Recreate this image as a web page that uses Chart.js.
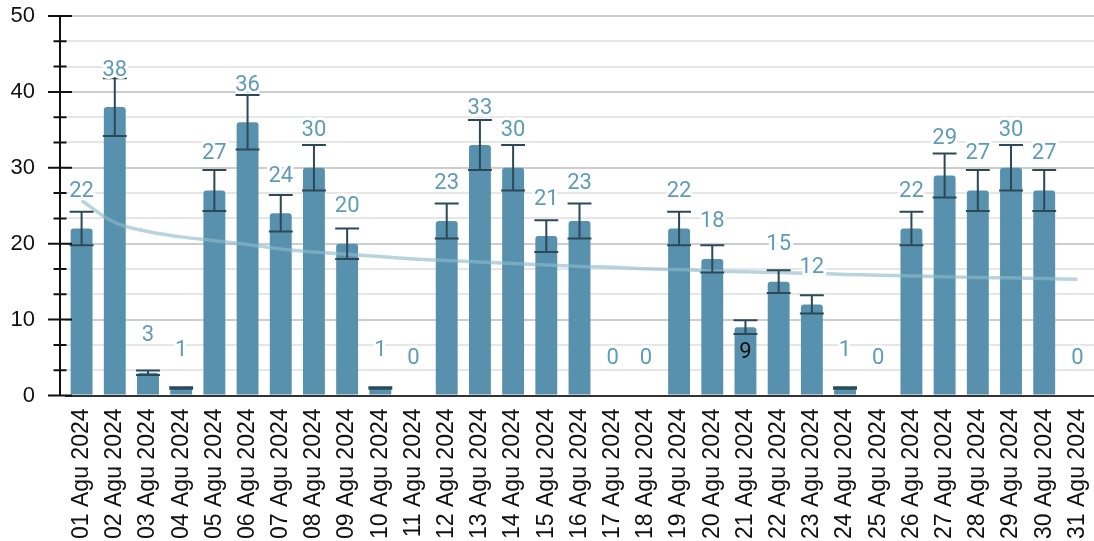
<!DOCTYPE html>
<html>
<head>
<meta charset="utf-8">
<style>
  html, body { margin: 0; padding: 0; background: #fff; }
  #wrap { width: 1094px; height: 541px; }
</style>
<script src="https://cdn.jsdelivr.net/npm/chart.js@4.4.0/dist/chart.umd.min.js"></script>
</head>
<body>
<div id="wrap"><canvas id="c"></canvas></div>
<script>
/* ── Data ── */
const days = [
  '01 Agu 2024', '02 Agu 2024', '03 Agu 2024', '04 Agu 2024', '05 Agu 2024',
  '06 Agu 2024', '07 Agu 2024', '08 Agu 2024', '09 Agu 2024', '10 Agu 2024',
  '11 Agu 2024', '12 Agu 2024', '13 Agu 2024', '14 Agu 2024', '15 Agu 2024',
  '16 Agu 2024', '17 Agu 2024', '18 Agu 2024', '19 Agu 2024', '20 Agu 2024',
  '21 Agu 2024', '22 Agu 2024', '23 Agu 2024', '24 Agu 2024', '25 Agu 2024',
  '26 Agu 2024', '27 Agu 2024', '28 Agu 2024', '29 Agu 2024', '30 Agu 2024',
  '31 Agu 2024'
];
const counts  = [22, 38, 3, 1, 27, 36, 24, 30, 20, 1, 0, 23, 33, 30, 21, 23, 0, 0, 22, 18, 9, 15, 12, 1, 0, 22, 29, 27, 30, 27, 0];
const errLow  = [19.8, 34.2, 2.7, 0.9, 24.3, 32.4, 21.6, 27, 18, 0.9, 0, 20.7, 29.7, 27, 18.9, 20.7, 0, 0, 19.8, 16.2, 8.1, 13.5, 10.8, 0.9, 0, 19.8, 26.1, 24.3, 27, 24.3, 0];
const errHigh = [24.2, 41.8, 3.3, 1.1, 29.7, 39.6, 26.4, 33, 22, 1.1, 0, 25.3, 36.3, 33, 23.1, 25.3, 0, 0, 24.2, 19.8, 9.9, 16.5, 13.2, 1.1, 0, 24.2, 31.9, 29.7, 33, 29.7, 0];
const trend   = [25.7, 22.8, 21.6, 20.9, 20.4, 19.9, 19.3, 18.9, 18.6, 18.3, 18.0, 17.8, 17.6, 17.4, 17.2, 17.0, 16.9, 16.7, 16.6, 16.4, 16.3, 16.2, 16.1, 15.95, 15.85, 15.75, 15.65, 15.55, 15.5, 15.4, 15.3];
const yMax    = 50;

/* ── Colours ── */
const BAR   = '#5891ad';
const LABEL = '#5f9cb7';
const ERR   = '#2b4956';
const TREND = 'rgba(140,185,204,0.62)';

const BAR_DS = 1;

/* ── Error bars ── */
const errorBars = {
  id: 'errorBars',
  afterDatasetsDraw(chart) {
    const { ctx, scales: { y } } = chart;
    const meta = chart.getDatasetMeta(BAR_DS);
    ctx.save();
    ctx.strokeStyle = ERR;
    ctx.lineWidth = 2;
    meta.data.forEach((bar, i) => {
      if (!counts[i]) return;
      const yl = y.getPixelForValue(errLow[i]);
      const yh = y.getPixelForValue(errHigh[i]);
      const half = bar.width / 2 + 1;
      ctx.beginPath();
      ctx.moveTo(bar.x, yl); ctx.lineTo(bar.x, yh);
      ctx.moveTo(bar.x - half, yl); ctx.lineTo(bar.x + half, yl);
      ctx.moveTo(bar.x - half, yh); ctx.lineTo(bar.x + half, yh);
      ctx.stroke();
    });
    ctx.restore();
  }
};

/* ── Value labels, white halo ── */
const valueLabels = {
  id: 'valueLabels',
  afterDraw(chart) {
    const { ctx } = chart;
    const meta = chart.getDatasetMeta(BAR_DS);
    const inside = new Set([20]);   // "9" sits inside its bar
    ctx.save();
    ctx.font = '22px Roboto';
    ctx.textAlign = 'center';
    ctx.textBaseline = 'middle';
    ctx.lineJoin = 'round';
    meta.data.forEach((bar, i) => {
      const txt = String(counts[i]);
      if (inside.has(i)) {
        ctx.fillStyle = '#111';
        ctx.fillText(txt, bar.x, bar.y + 25);
        return;
      }
      const ty = bar.y - 37;
      ctx.strokeStyle = '#fff';
      ctx.lineWidth = 6;
      ctx.strokeText(txt, bar.x, ty);
      ctx.fillStyle = LABEL;
      ctx.fillText(txt, bar.x, ty);
    });
    ctx.restore();
  }
};

/* ── Y axis line + tick marks ── */
const yAxisMarks = {
  id: 'yAxisMarks',
  afterDatasetsDraw(chart) {
    const { ctx, scales: { y } } = chart;
    const ax = y.right - 5;
    ctx.save();
    ctx.strokeStyle = '#111';
    ctx.lineWidth = 2;
    ctx.beginPath();
    ctx.moveTo(ax, y.getPixelForValue(yMax));
    ctx.lineTo(ax, y.getPixelForValue(0));
    y.ticks.forEach(t => {
      const py = y.getPixelForValue(t.value);
      const len = isMajor(t.value) ? 12 : 6.5;
      ctx.moveTo(ax - len, py);
      ctx.lineTo(ax + len, py);
    });
    ctx.stroke();
    ctx.restore();
  }
};

function isMajor(v) { return Math.abs(v / 10 - Math.round(v / 10)) < 1e-6; }

new Chart(document.getElementById('c'), {
  type: 'bar',
  data: {
    labels: days,
    datasets: [
      {
        type: 'line',
        label: 'Trend',
        data: trend,
        borderColor: TREND,
        borderWidth: 3.5,
        pointRadius: 0,
        tension: 0.4,
        fill: false,
        order: 0,
      },
      {
        label: 'Jumlah',
        data: counts,
        backgroundColor: BAR,
        borderRadius: 3,
        borderSkipped: 'start',
        barPercentage: 0.66,
        categoryPercentage: 1,
        order: 1,
      }
    ]
  },
  options: {
    responsive: true,
    maintainAspectRatio: false,
    animation: false,
    layout: { padding: { top: 16, right: 0, left: 0, bottom: 0 } },
    plugins: {
      legend: { display: false },
      tooltip: { enabled: false },
    },
    scales: {
      x: {
        grid: { display: false, drawTicks: false },
        border: { display: false },
        afterFit: s => { s.height = 145.5; s.paddingLeft = 0; s.paddingRight = 0; },
        ticks: {
          color: '#111',
          padding: 13,
          autoSkip: false,
          maxRotation: 90,
          minRotation: 90,
          font: { family: "'Liberation Sans', Arial, sans-serif", size: 23 },
        }
      },
      y: {
        min: 0,
        max: yMax,
        afterFit: s => { s.width = 65; s.paddingTop = 0; s.paddingBottom = 0; },
        afterBuildTicks: s => {
          s.ticks = [];
          for (let i = 0; i <= 15; i++) s.ticks.push({ value: i * 10 / 3 });
        },
        border: { display: false },
        grid: {
          drawTicks: false,
          lineWidth: 2,
          color: c => {
            const v = c.tick ? c.tick.value : 0;
            if (Math.abs(v) < 1e-6) return '#333';
            return isMajor(v) ? '#cdcdcd' : '#e6e6e6';
          }
        },
        ticks: {
          color: '#111',
          padding: 30,
          autoSkip: false,
          font: { family: "'Liberation Sans', Arial, sans-serif", size: 22 },
          callback: v => isMajor(v) ? String(Math.round(v)) : '',
        }
      }
    }
  },
  plugins: [errorBars, yAxisMarks, valueLabels],
});
</script>
</body>
</html>
